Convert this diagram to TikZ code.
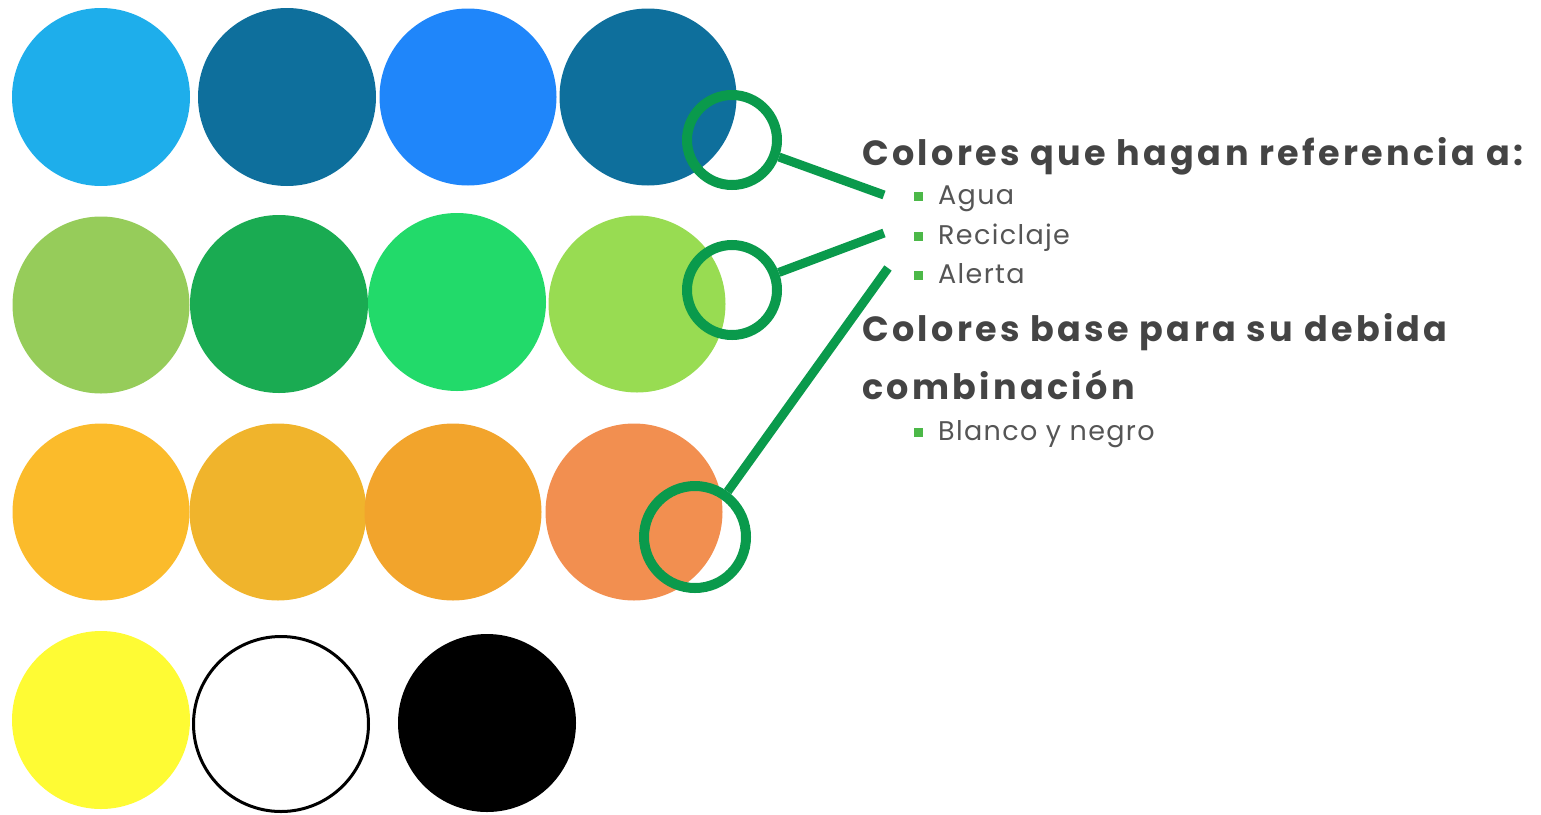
\documentclass[tikz,border=0pt]{standalone}
\usepackage{fontspec}
\setmainfont{Poppins}
\newfontfamily\headfont[LetterSpace=9.5]{Poppins}
\newfontfamily\itemfont[LetterSpace=5]{Poppins}
\usetikzlibrary{calc}
\definecolor{cA}{HTML}{1EAEEB}
\definecolor{cB}{HTML}{0E6F9C}
\definecolor{cC}{HTML}{1F86FA}
\definecolor{cD}{HTML}{96CC5A}
\definecolor{cE}{HTML}{1AAB52}
\definecolor{cF}{HTML}{22DA6A}
\definecolor{cG}{HTML}{98DC52}
\definecolor{cH}{HTML}{FBBB2B}
\definecolor{cI}{HTML}{F0B42C}
\definecolor{cJ}{HTML}{F2A42C}
\definecolor{cK}{HTML}{F28F50}
\definecolor{cL}{HTML}{FEFB34}
\definecolor{callgreen}{HTML}{0A9A4C}
\definecolor{bulgreen}{HTML}{4CB848}
\definecolor{txtgray}{HTML}{444444}
\definecolor{itgray}{HTML}{555555}
\tikzset{
  dot/.style={circle, draw=none, minimum size=#1, inner sep=0pt, outer sep=0pt},
  callout/.style={circle, draw=callgreen, line width=10pt, minimum size=#1, inner sep=0pt},
  callline/.style={draw=callgreen, line width=9pt},
  heading/.style={anchor=base west, inner sep=0pt, text=txtgray, font=\headfont\fontsize{35}{40}\selectfont\bfseries},
  item/.style={anchor=base west, inner sep=0pt, text=itgray, font=\itemfont\fontsize{27}{30}\selectfont},
  bullet/.style={fill=bulgreen, minimum size=9pt, inner sep=0pt, draw=none}
}
\begin{document}
\begin{tikzpicture}[x=1pt,y=-1pt]
\path[use as bounding box] (0,0) rectangle (1541,814);
% row 1
\node[dot=178, fill=cA] (r1a) at (101,97) {};
\node[dot=178, fill=cB] (r1b) at (287,97) {};
\node[dot=177, fill=cC] (r1c) at (468,97) {};
\node[dot=177, fill=cB] (r1d) at (648,97) {};
% row 2
\node[dot=177, fill=cD] (r2a) at (101,305) {};
\node[dot=178, fill=cE] (r2b) at (279,304) {};
\node[dot=178, fill=cF] (r2c) at (457,302) {};
\node[dot=177, fill=cG] (r2d) at (637,304) {};
% row 3
\node[dot=177, fill=cH] (r3a) at (101,512) {};
\node[dot=177, fill=cI] (r3b) at (278,512) {};
\node[dot=177, fill=cJ] (r3c) at (453,512) {};
\node[dot=177, fill=cK] (r3d) at (634,512) {};
% row 4
\node[dot=178, fill=cL] (r4a) at (101,720) {};
\node[circle, draw=black, line width=3pt, fill=white, minimum size=175pt, inner sep=0pt] (r4b) at (281,724) {};
\node[dot=178, fill=black] (r4c) at (487,723) {};
% callouts
\node[callout=90pt] (k1) at (732,140) {};
\node[callout=90pt] (k2) at (732,290) {};
\node[callout=102pt] (k3) at (695,537) {};
\coordinate (e1) at (884,195);
\coordinate (e2) at (884,233);
\coordinate (e3) at (888,268);
\draw[callline] (k1) -- (e1);
\draw[callline] (k2) -- (e2);
\draw[callline] (k3) -- (e3);
% text
\node[heading] (h1) at (862,165) {Colores que hagan referencia a:};
\node[bullet] (b1) at (918,196) {};
\node[item] (t1) at (938,204) {Agua};
\node[bullet] (b2) at (918,236) {};
\node[item] (t2) at (938,244) {Reciclaje};
\node[bullet] (b3) at (918,275) {};
\node[item] (t3) at (938,283) {Alerta};
\node[heading] (h2) at (862,341) {Colores base para su debida};
\node[heading] (h3) at (862,399) {combinación};
\node[bullet] (b4) at (918,432) {};
\node[item] (t4) at (938,440) {Blanco y negro};
\end{tikzpicture}
\end{document}
